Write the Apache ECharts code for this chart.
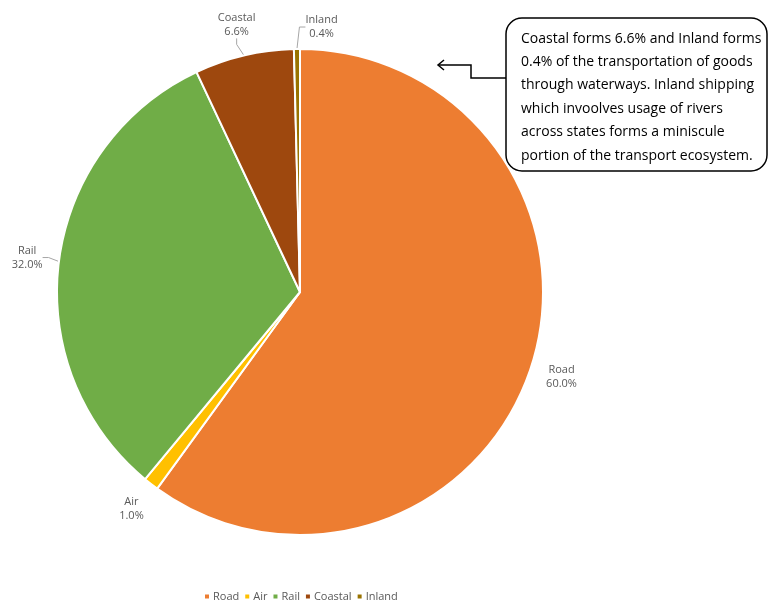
<!DOCTYPE html>
<html>
<head>
<meta charset="utf-8">
<script src="https://cdn.jsdelivr.net/npm/echarts@6/dist/echarts.min.js"></script>
<style>
  html, body { margin: 0; padding: 0; background: #fff; }
  #chart { width: 768px; height: 604px; }
</style>
</head>
<body>
<div id="chart"></div>
<script type="text/javascript">

	// modes of freight transport, share in %
	var modes = ['Road', 'Air', 'Rail', 'Coastal', 'Inland'];
	var shares = [60.0, 1.0, 32.0, 6.6, 0.4];
	var colors = ['#ED7D31', '#FFC000', '#70AD47', '#9E480E', '#997300'];

	var noteLines = [
		'Coastal forms 6.6% and Inland forms',
		'0.4% of the transportation of goods',
		'through waterways. Inland shipping',
		'which invoolves usage of rivers',
		'across states forms a miniscule',
		'portion of the transport ecosystem.'
	];

	var cx = 300, cy = 292, radius = 243;
	var font = '"Open Sans", "Liberation Sans", sans-serif';

	var total = 0;
	for (var i = 0; i < shares.length; i++) total += shares[i];

	// mid angle of each slice, for placing its label like excel does
	var midAngles = [];
	var cum = 0;
	for (var i = 0; i < shares.length; i++) {
		var f = (cum + shares[i] / 2) / total;
		midAngles.push((90 - f * 360) * Math.PI / 180);
		cum += shares[i];
	}

	var pieData = [];
	for (var i = 0; i < modes.length; i++) {
		var noLine = (modes[i] === 'Road' || modes[i] === 'Air');
		pieData.push({
			name: modes[i],
			value: shares[i],
			itemStyle: { color: colors[i] },
			labelLine: { show: !noLine }
		});
	}

	var chart = echarts.init(document.getElementById('chart'));
	chart.setOption({
		animation: false,
		legend: {
			data: modes,
			top: 586,
			left: 198,
			itemWidth: 6,
			itemHeight: 6,
			itemGap: 4,
			icon: 'rect',
			textStyle: { color: '#595959', fontSize: 11, fontFamily: font, padding: [0, 0, 0, -2] }
		},
		series: [
			{
				type: 'pie',
				center: [cx, cy],
				radius: [0, radius],
				startAngle: 90,
				clockwise: true,
				avoidLabelOverlap: false,
				itemStyle: { borderColor: '#fff', borderWidth: 2 },
				label: {
					show: true,
					position: 'outside',
					formatter: function (p) { return p.name + '\n' + p.value.toFixed(1) + '%'; },
					color: '#595959',
					fontSize: 11,
					lineHeight: 14,
					fontFamily: font
				},
				labelLine: {
					show: true,
					length: 8,
					length2: 6,
					lineStyle: { color: '#a6a6a6', width: 1 }
				},
				labelLayout: function (params) {
					var a = midAngles[params.dataIndex];
					var r = radius + 32;
					var x = cx + r * Math.cos(a);
					var y = cy - r * Math.sin(a);
					if (modes[params.dataIndex] === 'Inland') {
						// tiny slice: excel nudges its label off to the right
						x += 25;
						y += 10;
					}
					return { x: x, y: y, align: 'center', verticalAlign: 'middle' };
				},
				data: pieData
			}
		],
		graphic: [
			{
				type: 'rect',
				shape: { x: 506, y: 18, width: 261, height: 153, r: 16 },
				style: { fill: '#fff', stroke: '#000', lineWidth: 1.5 }
			},
			{
				type: 'polyline',
				shape: { points: [[506, 78], [471, 78], [471, 65], [439, 65]] },
				style: { stroke: '#000', lineWidth: 1.5, fill: null }
			},
			{
				type: 'polyline',
				shape: { points: [[444, 60], [438, 65], [444, 70]] },
				style: { stroke: '#000', lineWidth: 1.5, fill: null }
			},
			{
				type: 'text',
				left: 521,
				top: 27,
				style: {
					text: noteLines.join('\n'),
					fill: '#000',
					font: '14px ' + font,
					lineHeight: 23.4
				}
			}
		]
	});
</script>
</body>
</html>
